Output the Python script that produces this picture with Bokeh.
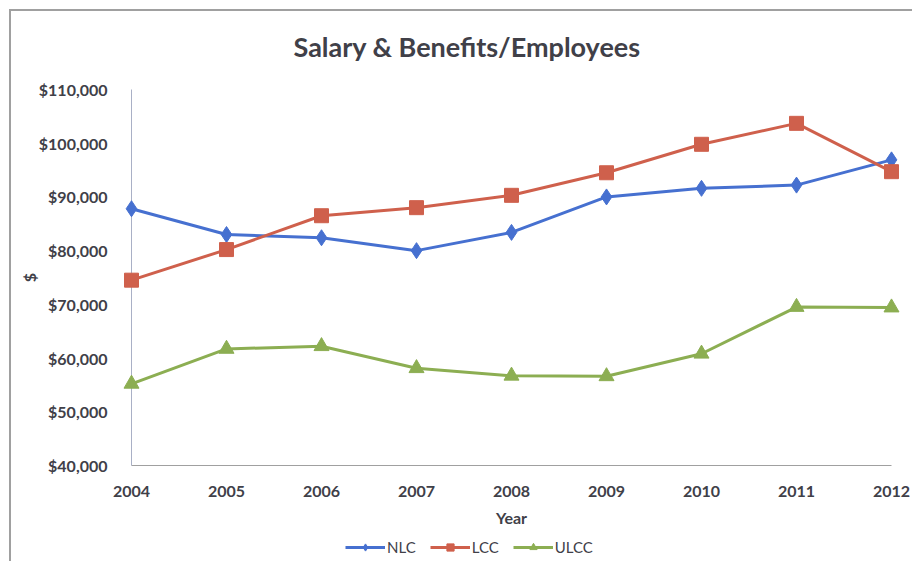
from bokeh.plotting import figure
from bokeh.layouts import column
from bokeh.models import (FixedTicker, NumeralTickFormatter, Range1d, Legend, LegendItem)
from bokeh.embed import file_html
from bokeh.resources import INLINE

years = [2004, 2005, 2006, 2007, 2008, 2009, 2010, 2011, 2012]
nlc = [87800, 83000, 82400, 80000, 83400, 90000, 91600, 92200, 96900]
lcc = [74500, 80200, 86500, 88000, 90300, 94500, 99800, 103700, 94700]
ulcc = [55200, 61700, 62200, 58100, 56700, 56600, 60800, 69500, 69400]
y_ticks = [40000, 50000, 60000, 70000, 80000, 90000, 100000, 110000]

title_text = "Salary & Benefits/Employees"
x_label = "Year"
y_label = "$"
series_names = ["NLC", "LCC", "ULCC"]
colors = ["#4670d0", "#cf604c", "#8cae52"]
markers = ["diamond", "square", "triangle"]
sizes = [16, 14, 15]
series = [nlc, lcc, ulcc]

FONT = "Lato"
TXT = "#404048"
BORDER = "#a0a0a0"

p = figure(width=912, height=530, output_backend="svg", toolbar_location=None,
           x_range=Range1d(years[0], years[-1]), y_range=Range1d(40000, 110000),
           min_border_left=131, min_border_right=21, min_border_top=88,
           min_border_bottom=65)
p.outline_line_color = None
p.xgrid.grid_line_color = None
p.ygrid.grid_line_color = None
p.border_fill_color = None
p.background_fill_color = None

# title
p.title.text = title_text
p.title.align = "left"
p.title.offset = 162
p.title.text_font = FONT
p.title.text_font_style = "bold"
p.title.text_font_size = "27px"
p.title.text_color = TXT
p.title.standoff = 54

# axes
p.yaxis.ticker = FixedTicker(ticks=y_ticks)
p.yaxis.formatter = NumeralTickFormatter(format="$0,0")
p.xaxis.ticker = FixedTicker(ticks=years)
p.xaxis.formatter = NumeralTickFormatter(format="0")
for ax in (p.xaxis[0], p.yaxis[0]):
    ax.major_tick_line_color = None
    ax.minor_tick_line_color = None
    ax.major_label_text_font = FONT
    ax.major_label_text_font_style = "bold"
    ax.major_label_text_font_size = "16px"
    ax.major_label_text_color = TXT
    ax.axis_label_text_font = FONT
    ax.axis_label_text_font_style = "bold"
    ax.axis_label_text_font_size = "16px"
    ax.axis_label_text_color = TXT
p.yaxis.axis_line_color = "#a9b0c6"
p.xaxis.axis_line_color = "#a0a0a0"
p.yaxis.major_label_standoff = 18
p.xaxis.major_label_standoff = 14
p.yaxis.axis_label = y_label
p.yaxis.axis_label_standoff = -3
p.xaxis.axis_label = x_label
p.xaxis.axis_label_standoff = 8

for vals, col, mk, sz in zip(series, colors, markers, sizes):
    p.line(years, vals, line_color=col, line_width=3, level="overlay")
    p.scatter(years, vals, marker=mk, size=sz, fill_color=col, line_color=col,
              level="overlay")

p.styles = {
    "background-color": "white",
    "background-image": f"linear-gradient({BORDER}, {BORDER}), linear-gradient({BORDER}, {BORDER})",
    "background-size": "2px 100%, 100% 2px",
    "background-position": "9px 9px, 9px 9px",
    "background-repeat": "no-repeat",
}

# legend strip below the chart (its own small canvas; frame aligned with the chart's)
lg = figure(width=912, height=31, output_backend="svg", toolbar_location=None,
            x_range=Range1d(0, 1), y_range=Range1d(0, 1),
            x_axis_type=None, y_axis_type=None, min_border=0)
lg.outline_line_color = None
lg.xgrid.grid_line_color = None
lg.ygrid.grid_line_color = None
lg.border_fill_color = None
lg.background_fill_color = None
items = []
for name, vals, col, mk, sz in zip(series_names, series, colors, markers, sizes):
    r1 = lg.line(years, vals, line_color=col, line_width=3)
    r2 = lg.scatter(years, vals, marker=mk, size=sz, fill_color=col, line_color=col)
    items.append(LegendItem(label=name, renderers=[r1, r2]))
legend = Legend(items=items, orientation="horizontal", location=(214, 5),
                label_text_font=FONT, label_text_font_size="15px",
                label_text_color=TXT, glyph_width=40, glyph_height=18,
                label_standoff=2, spacing=14, padding=0, margin=0,
                border_line_color=None, background_fill_alpha=0)
lg.add_layout(legend, "center")
lg.styles = {
    "background-color": "white",
    "background-image": f"linear-gradient({BORDER}, {BORDER})",
    "background-size": "2px 100%",
    "background-position": "9px 0px",
    "background-repeat": "no-repeat",
}

layout = column(p, lg, spacing=0)
open("out.html", "w").write(file_html(layout, INLINE))
